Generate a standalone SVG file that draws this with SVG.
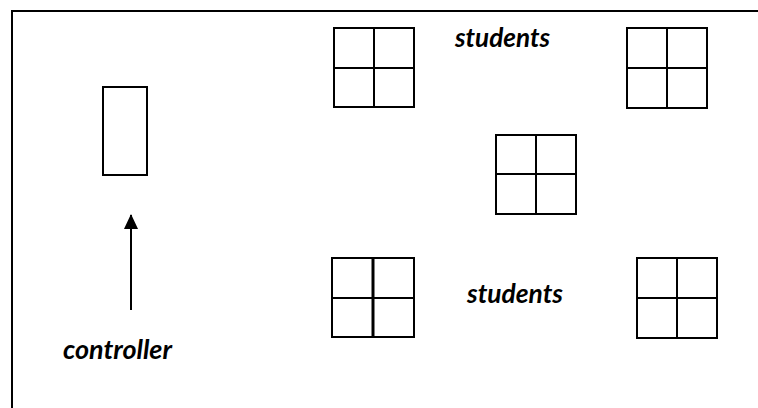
<svg xmlns="http://www.w3.org/2000/svg" width="758" height="408" viewBox="0 0 758 408">
<style>
.frame{fill:none;stroke:#000;stroke-width:2}
.box{fill:#fff;stroke:#000;stroke-width:2}
.div{stroke:#000;stroke-width:2;fill:none}
.lbl{font-family:Lato,"Open Sans","Liberation Sans",sans-serif;font-weight:bold;font-style:italic;font-size:26px;fill:#000}
.conn{stroke:#000;stroke-width:2;fill:none}
</style>
<defs>
<marker id="ah" markerUnits="userSpaceOnUse" markerWidth="16" markerHeight="16" refX="14" refY="7" orient="auto">
<path d="M0,0 L15,7 L0,14 Z" fill="#000"/>
</marker>
</defs>
<rect width="758" height="408" fill="#fff"/>
<path class="frame" d="M12,408 V11 H758"/>
<g id="controller-box">
<rect class="box" x="103" y="87" width="44" height="88"/>
</g>
<g id="grid-top-left">
<rect class="box" x="334" y="28" width="80" height="79"/>
<path class="div" d="M374,28 V107 M334,68 H414"/>
</g>
<g id="grid-top-right">
<rect class="box" x="627" y="28" width="80" height="80"/>
<path class="div" d="M667,28 V108 M627,68 H707"/>
</g>
<g id="grid-center">
<rect class="box" x="496" y="135" width="80" height="79"/>
<path class="div" d="M536,135 V214 M496,174 H576"/>
</g>
<g id="grid-bottom-left">
<rect class="box" x="332" y="258" width="82" height="79"/>
<path class="div" d="M332,298 H414"/>
<path d="M373,258 V337" stroke="#000" stroke-width="3"/>
</g>
<g id="grid-bottom-right">
<rect class="box" x="637" y="258" width="80" height="80"/>
<path class="div" d="M677,258 V338 M637,298 H717"/>
</g>
<g id="label-students-top">
<text class="lbl" x="455" y="47" textLength="95" lengthAdjust="spacingAndGlyphs">students</text>
</g>
<g id="label-students-bottom">
<text class="lbl" x="467" y="303" textLength="96" lengthAdjust="spacingAndGlyphs">students</text>
</g>
<g id="label-controller">
<text class="lbl" x="63" y="359" textLength="109" lengthAdjust="spacingAndGlyphs">controller</text>
</g>
<g id="connectors">
<path class="conn" d="M131,310 V215" marker-end="url(#ah)"/>
</g>
</svg>
